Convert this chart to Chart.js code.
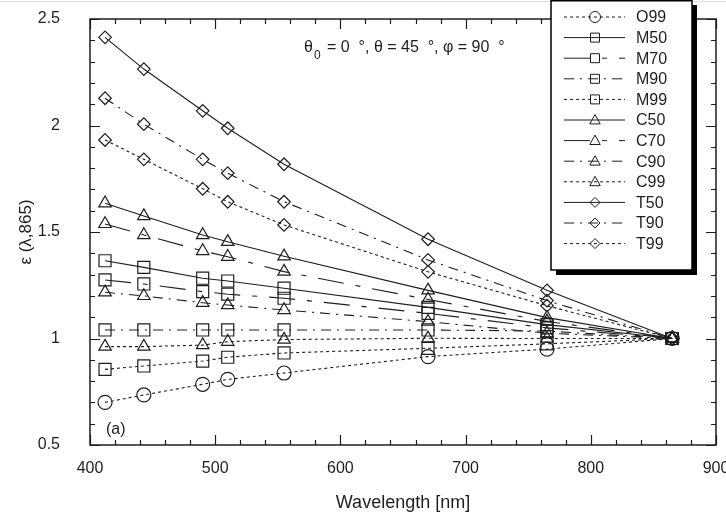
<!DOCTYPE html>
<html><head><meta charset="utf-8">
<script src="https://cdn.jsdelivr.net/npm/chart.js@4.4.0/dist/chart.umd.min.js"></script>
<style>html,body{margin:0;padding:0;background:#fff;}</style>
</head><body>
<canvas id="c" width="726" height="519"></canvas>
<script>
// ---- data ----
const wavelengths = [412, 443, 490, 510, 555, 670, 765, 865];
const seriesNames = ['O99','M50','M70','M90','M99','C50','C70','C90','C99','T50','T90','T99'];
const O99 = [0.700, 0.735, 0.785, 0.808, 0.838, 0.915, 0.950, 1.0];
const M50 = [1.365, 1.334, 1.283, 1.270, 1.236, 1.146, 1.065, 1.0];
const M70 = [1.275, 1.256, 1.220, 1.208, 1.189, 1.118, 1.050, 1.0];
const M90 = [1.040, 1.040, 1.040, 1.040, 1.040, 1.040, 1.035, 1.0];
const M99 = [0.855, 0.871, 0.894, 0.912, 0.932, 0.954, 0.975, 1.0];
const C50 = [1.635, 1.575, 1.486, 1.454, 1.386, 1.226, 1.098, 1.0];
const C70 = [1.538, 1.486, 1.411, 1.384, 1.314, 1.183, 1.080, 1.0];
const C90 = [1.217, 1.200, 1.168, 1.157, 1.134, 1.079, 1.025, 1.0];
const C99 = [0.962, 0.962, 0.969, 0.985, 0.995, 1.001, 1.000, 1.0];
const T50 = [2.414, 2.265, 2.069, 1.987, 1.818, 1.466, 1.226, 1.0];
const T90 = [2.128, 2.006, 1.841, 1.776, 1.642, 1.369, 1.178, 1.0];
const T99 = [1.932, 1.841, 1.703, 1.642, 1.533, 1.313, 1.154, 1.0];
const seriesValues = [O99, M50, M70, M90, M99, C50, C70, C90, C99, T50, T90, T99];
const xTickValues = [400, 500, 600, 700, 800, 900];
const yTickValues = [0.5, 1, 1.5, 2, 2.5];
const xTitle = 'Wavelength [nm]';
const yTitle = 'ε (λ,865)';
const panelLabel = '(a)';

// ---- styles ----
const INK = '#1e1e1e';
const DASH = {solid: [], longdash: [26, 12, 5, 12], dashdot: [10, 6, 2, 6], dot: [3, 3]};
const seriesStyle = {
  O99: ['circle', 'dot'],
  M50: ['rect', 'solid'], M70: ['rect', 'longdash'], M90: ['rect', 'dashdot'], M99: ['rect', 'dot'],
  C50: ['triangle', 'solid'], C70: ['triangle', 'longdash'], C90: ['triangle', 'dashdot'], C99: ['triangle', 'dot'],
  T50: ['rectRot', 'solid'], T90: ['rectRot', 'dashdot'], T99: ['rectRot', 'dot']
};
const markerRadius = {circle: 7, rect: 8.5, triangle: 7.2, rectRot: 6.3};
const FONT = '"Liberation Sans", Arial, sans-serif';

const datasets = seriesNames.map((name, i) => {
  const [shape, dash] = seriesStyle[name];
  return {
    label: name,
    data: wavelengths.map((w, j) => ({x: w, y: seriesValues[i][j]})),
    borderColor: INK, borderWidth: 1.1, borderDash: DASH[dash],
    pointStyle: shape, pointRadius: markerRadius[shape], pointBorderWidth: 1.2,
    pointBorderColor: INK, pointBackgroundColor: 'rgba(0,0,0,0)',
    fill: false, tension: 0
  };
});

function drawMarker(ctx, shape, x, y, s) {
  ctx.beginPath();
  if (shape === 'circle') ctx.arc(x, y, s, 0, Math.PI * 2);
  else if (shape === 'rect') ctx.rect(x - s, y - s, 2 * s, 2 * s);
  else if (shape === 'triangle') {
    ctx.moveTo(x, y - s * 1.05); ctx.lineTo(x + s, y + s * 0.75); ctx.lineTo(x - s, y + s * 0.75); ctx.closePath();
  } else if (shape === 'rectRot') {
    ctx.moveTo(x, y - s); ctx.lineTo(x + s, y); ctx.lineTo(x, y + s); ctx.lineTo(x - s, y); ctx.closePath();
  }
  ctx.stroke();
}

const decor = {
  id: 'decor',
  afterDatasetsDraw(chart) {
    const ctx = chart.ctx, a = chart.chartArea;
    const xs = chart.scales.x, ys = chart.scales.y;
    ctx.save();
    // faint screenshot edge line at the top
    ctx.strokeStyle = '#dcdcdc'; ctx.lineWidth = 1;
    ctx.beginPath(); ctx.moveTo(0, 1.5); ctx.lineTo(726, 1.5); ctx.stroke();
    // frame
    ctx.strokeStyle = INK; ctx.lineWidth = 1.5; ctx.setLineDash([]);
    ctx.strokeRect(a.left, a.top, a.right - a.left, a.bottom - a.top);
    ctx.lineWidth = 1.2;
    for (let v = 400; v <= 900; v += 20) {
      const px = Math.round(xs.getPixelForValue(v)) + 0.5;
      const len = (v % 100 === 0) ? 10 : 5;
      ctx.beginPath();
      ctx.moveTo(px, a.bottom); ctx.lineTo(px, a.bottom - len);
      ctx.moveTo(px, a.top); ctx.lineTo(px, a.top + len);
      ctx.stroke();
    }
    for (let k = 5; k <= 25; k++) {
      const v = k / 10;
      const py = Math.round(ys.getPixelForValue(v)) + 0.5;
      const len = (k % 5 === 0) ? 10 : 5;
      ctx.beginPath();
      ctx.moveTo(a.left, py); ctx.lineTo(a.left + len, py);
      ctx.moveTo(a.right, py); ctx.lineTo(a.right - len, py);
      ctx.stroke();
    }
    // annotation
    ctx.fillStyle = INK; ctx.textBaseline = 'alphabetic'; ctx.textAlign = 'left';
    ctx.font = '16px ' + FONT;
    let x = 304, y = 52;
    ctx.fillText('θ', x, y); x += ctx.measureText('θ').width + 1;
    ctx.font = '12px ' + FONT; ctx.fillText('0', x, y + 7); x += ctx.measureText('0').width + 2;
    ctx.font = '16px ' + FONT;
    ctx.fillText(' = 0  °, θ = 45  °, φ = 90  °', x, y);
    ctx.fillText(panelLabel, 106, 434);
    // legend
    const L = {x: 551, y: 0, w: 141, h: 270};
    ctx.fillStyle = '#000';
    ctx.fillRect(L.x + 5, L.y + 5, L.w, L.h);
    ctx.fillStyle = '#fff';
    ctx.fillRect(L.x, L.y, L.w, L.h);
    ctx.strokeStyle = '#000'; ctx.lineWidth = 1.5;
    ctx.strokeRect(L.x, L.y + 0.75, L.w, L.h - 0.75);
    ctx.font = '16px ' + FONT; ctx.textBaseline = 'middle';
    const legendMarker = {circle: 5.5, rect: 4.5, triangle: 5.2, rectRot: 5};
    chart.data.datasets.forEach((ds, i) => {
      const yy = 17 + i * 20.6;
      ctx.strokeStyle = INK; ctx.lineWidth = 1;
      ctx.setLineDash(ds.borderDash);
      ctx.beginPath(); ctx.moveTo(564, yy); ctx.lineTo(625, yy); ctx.stroke();
      ctx.setLineDash([]);
      drawMarker(ctx, ds.pointStyle, 595, yy, legendMarker[ds.pointStyle]);
      ctx.fillStyle = INK;
      ctx.fillText(ds.label, 636, yy + 1);
    });
    ctx.restore();
  }
};

new Chart(document.getElementById('c'), {
  type: 'line',
  data: {datasets},
  options: {
    responsive: false, animation: false, devicePixelRatio: 1,
    layout: {padding: {top: 19, right: 10, left: 0, bottom: 0}},
    plugins: {legend: {display: false}, tooltip: {enabled: false}},
    scales: {
      x: {
        type: 'linear', min: 400, max: 900,
        afterBuildTicks: s => { s.ticks = xTickValues.map(v => ({value: v})); },
        afterFit: s => { s.height = 74; s.paddingLeft = 0; s.paddingRight = 0; },
        grid: {display: false, drawTicks: false}, border: {display: false},
        ticks: {padding: 14, color: INK, font: {family: FONT, size: 16}, callback: v => String(v)},
        title: {display: true, text: xTitle, color: INK, font: {family: FONT, size: 18}, padding: {top: 0, bottom: 5}}
      },
      y: {
        type: 'linear', min: 0.5, max: 2.5,
        afterBuildTicks: s => { s.ticks = yTickValues.map(v => ({value: v})); },
        afterFit: s => { s.width = 90; s.paddingTop = 0; s.paddingBottom = 0; },
        grid: {display: false, drawTicks: false}, border: {display: false},
        ticks: {padding: 30, color: INK, font: {family: FONT, size: 16}, callback: v => String(v)},
        title: {display: true, text: yTitle, color: INK, font: {family: FONT, size: 17}, padding: {top: 16, bottom: 0}}
      }
    }
  },
  plugins: [decor]
});
</script>
</body></html>
